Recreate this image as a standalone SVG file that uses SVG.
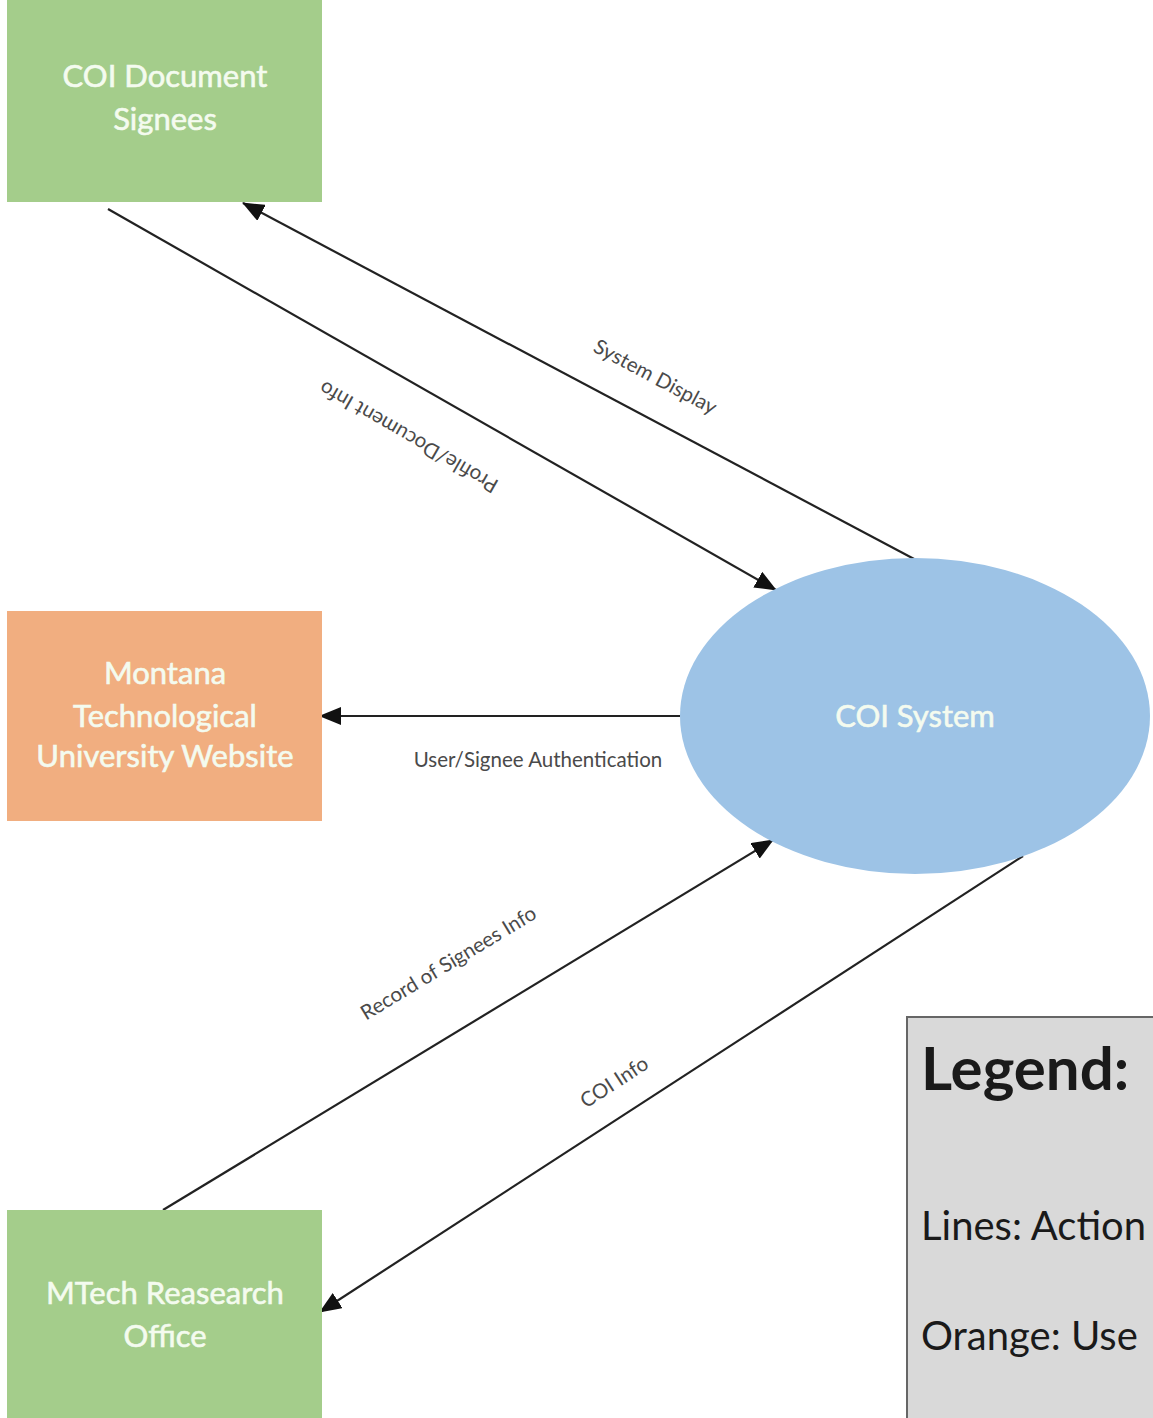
<svg xmlns="http://www.w3.org/2000/svg" width="1153" height="1418" viewBox="0 0 1153 1418">
<style>
.node-text{font-family:Lato,"Open Sans","Liberation Sans",sans-serif;font-size:31px;fill:#f4fbef;stroke:#f4fbef;stroke-width:0.6;text-anchor:middle}
.edge{stroke:#222;stroke-width:2.2;fill:none;marker-end:url(#arrow)}
.elabel{font-family:Lato,"Open Sans","Liberation Sans",sans-serif;font-size:20.5px;fill:#4a4a4a;text-anchor:middle}
.legend{font-family:Lato,"Open Sans","Liberation Sans",sans-serif;fill:#1a1a1a}
</style>
<defs>
<marker id="arrow" viewBox="0 0 22 18" refX="21" refY="9" markerWidth="22" markerHeight="18" markerUnits="userSpaceOnUse" orient="auto">
<path d="M0,0 L22,9 L0,18 Z" fill="#111"/>
</marker>
</defs>
<rect width="1153" height="1418" fill="#fff"/>
<g id="connectors">
<line class="edge" x1="108" y1="209" x2="776" y2="590"/>
<line class="edge" x1="916" y1="560" x2="243" y2="203"/>
<line class="edge" x1="680" y1="716" x2="320" y2="716"/>
<line class="edge" x1="163" y1="1210" x2="773" y2="840"/>
<line class="edge" x1="1023" y1="856" x2="320" y2="1312"/>
<text class="elabel" transform="translate(652,383) rotate(28)">System Display</text>
<text class="elabel" transform="translate(412,431) rotate(210)">Profile/Document Info</text>
<text class="elabel" x="538" y="767">User/Signee Authentication</text>
<text class="elabel" transform="translate(452,969) rotate(-31)">Record of Signees Info</text>
<text class="elabel" transform="translate(618,1088) rotate(-33)">COI Info</text>
</g>
<g id="node-signees">
<rect x="7" y="-2" width="315" height="204" fill="#a4cd8b"/>
<text class="node-text" x="165" y="87">COI Document</text>
<text class="node-text" x="165" y="130">Signees</text>
</g>
<g id="node-website">
<rect x="7" y="611" width="315" height="210" fill="#f1ae80"/>
<text class="node-text" x="165" y="684">Montana</text>
<text class="node-text" x="165" y="727">Technological</text>
<text class="node-text" x="165" y="767">University Website</text>
</g>
<g id="node-research">
<rect x="7" y="1210" width="315" height="212" fill="#a4cd8b"/>
<text class="node-text" x="165" y="1304">MTech Reasearch</text>
<text class="node-text" x="165" y="1347">Office</text>
</g>
<g id="node-system">
<ellipse cx="915" cy="716" rx="235" ry="158" fill="#9dc3e6"/>
<text class="node-text" x="915" y="727">COI System</text>
</g>
<g id="legend">
<rect x="907" y="1017" width="260" height="420" fill="#d9d9d9" stroke="#666" stroke-width="2"/>
<text class="legend" x="921" y="1090" font-size="60" font-weight="bold">Legend:</text>
<text class="legend" x="921" y="1240" font-size="40">Lines: Action</text>
<text class="legend" x="921" y="1350" font-size="40">Orange: Use</text>
</g>
</svg>
